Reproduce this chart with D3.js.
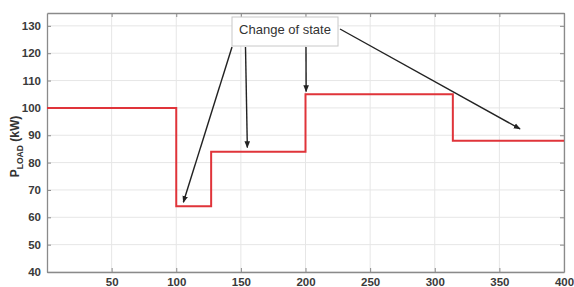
<!DOCTYPE html>
<html>
<head>
<meta charset="utf-8">
<script src="https://cdn.jsdelivr.net/npm/d3@7"></script>
<style>
  body { margin: 0; background: #fff; }
  text { font-family: "Liberation Sans", Arial, sans-serif; }
</style>
</head>
<body>
<svg id="container" width="574" height="287"></svg>
<script>
// step profile of the load (kW) — breakpoints and levels
const stepTimes = [0, 100, 127, 200, 314, 400];
const stepLevels = [100, 64, 84, 105, 88];
const xTicks = [50, 100, 150, 200, 250, 300, 350, 400];
const yTicks = [40, 50, 60, 70, 80, 90, 100, 110, 120, 130];
// arrow tips, in data units
const arrowTips = [
  { x: 105.5, y: 65.5 },
  { x: 155, y: 85.5 },
  { x: 200.5, y: 106 },
  { x: 366, y: 92.3 },
];

const svg = d3.select("#container");
const margin = { left: 47, right: 10, top: 13, bottom: 15 };
const width = 574, height = 287;

const x = d3.scaleLinear().domain([0, 400]).range([margin.left, width - margin.right]);
const y = d3.scaleLinear().domain([40, 134.7]).range([height - margin.bottom, margin.top]);

const defs = svg.append("defs");
defs.append("marker")
  .attr("id", "head")
  .attr("viewBox", "0 0 10 10")
  .attr("refX", 9).attr("refY", 5)
  .attr("markerWidth", 5).attr("markerHeight", 5)
  .attr("orient", "auto")
  .append("path").attr("d", "M0,1L10,5L0,9Z").attr("fill", "#222");

// grid
svg.append("g").selectAll("line").data(xTicks).enter().append("line")
  .attr("x1", d => x(d)).attr("x2", d => x(d))
  .attr("y1", y(40)).attr("y2", margin.top)
  .attr("stroke", "#e6e6e6").attr("stroke-width", 1);
svg.append("g").selectAll("line").data(yTicks).enter().append("line")
  .attr("x1", x(0)).attr("x2", x(400))
  .attr("y1", d => y(d)).attr("y2", d => y(d))
  .attr("stroke", "#e6e6e6").attr("stroke-width", 1);

// axes (ticks inward, MATLAB style)
const xAxis = svg.append("g")
  .attr("transform", `translate(0,${y(40)})`)
  .call(d3.axisBottom(x).tickValues(xTicks).tickSizeInner(-4).tickSizeOuter(0));
const yAxis = svg.append("g")
  .attr("transform", `translate(${x(0)},0)`)
  .call(d3.axisLeft(y).tickValues(yTicks).tickSizeInner(-4).tickSizeOuter(0).tickPadding(6));
svg.append("g")
  .attr("transform", `translate(0,${margin.top})`)
  .call(d3.axisTop(x).tickValues(xTicks).tickSizeInner(-4).tickSizeOuter(0).tickFormat(""));
svg.append("g")
  .attr("transform", `translate(${x(400)},0)`)
  .call(d3.axisRight(y).tickValues(yTicks).tickSizeInner(-4).tickSizeOuter(0).tickFormat(""));

svg.selectAll(".domain").attr("stroke", "#8a8a8a").attr("stroke-width", 1.3);
svg.selectAll(".tick line").attr("stroke", "#8a8a8a");
svg.selectAll(".tick text")
  .attr("fill", "#3a3a3a").attr("font-size", 11.5).attr("font-weight", "bold")
  .attr("font-family", "Liberation Sans, Arial, sans-serif");
xAxis.selectAll(".tick text").attr("y", 14).attr("dy", 0);

// step line
const steps = stepLevels.map((v, i) => ({ t: stepTimes[i], v }));
steps.push({ t: stepTimes[stepTimes.length - 1], v: stepLevels[stepLevels.length - 1] });
const line = d3.line().x(d => x(d.t)).y(d => y(d.v)).curve(d3.curveStepAfter);
svg.append("path").datum(steps)
  .attr("d", line)
  .attr("fill", "none").attr("stroke", "#e0343a").attr("stroke-width", 2);

// y label
const yl = svg.append("text")
  .attr("transform", `translate(19,${(margin.top + y(40)) / 2 + 4}) rotate(-90)`)
  .attr("text-anchor", "middle")
  .attr("font-weight", "bold").attr("font-size", 12).attr("fill", "#333");
yl.append("tspan").text("P");
yl.append("tspan").attr("font-size", 8.5).attr("dy", 4).text("LOAD");
yl.append("tspan").attr("dy", -4).text(" (kW)");

// annotation box
const box = { x0: 232, y0: 17, x1: 338, y1: 46 };
svg.append("rect")
  .attr("x", box.x0).attr("y", box.y0)
  .attr("width", box.x1 - box.x0).attr("height", box.y1 - box.y0)
  .attr("fill", "#fff").attr("stroke", "#c8c8c8").attr("stroke-width", 1);
svg.append("text")
  .attr("x", (box.x0 + box.x1) / 2).attr("y", 34)
  .attr("text-anchor", "middle").attr("font-size", 13).attr("fill", "#333")
  .text("Change of state");

const arrowStarts = [
  [232, 47], [245.5, 47], [306, 47], [340, 29]
];
svg.append("g").selectAll("line").data(arrowTips).enter().append("line")
  .attr("x1", (d, i) => arrowStarts[i][0]).attr("y1", (d, i) => arrowStarts[i][1])
  .attr("x2", d => x(d.x)).attr("y2", d => y(d.y))
  .attr("stroke", "#222").attr("stroke-width", 1.4)
  .attr("marker-end", "url(#head)");
</script>
</body>
</html>
